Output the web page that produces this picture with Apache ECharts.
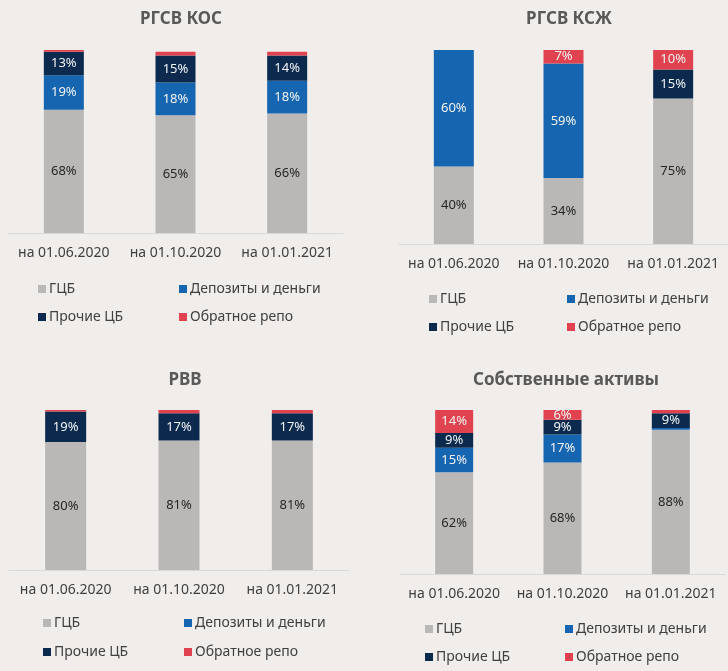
<!DOCTYPE html>
<html>
<head>
<meta charset="utf-8">
<script src="https://cdn.jsdelivr.net/npm/echarts@6/dist/echarts.min.js"></script>
<style>
  html, body { margin: 0; padding: 0; background: #f1edea; }
  #chart { width: 728px; height: 671px; }
</style>
</head>
<body>
<div id="chart"></div>
<script>
// категории и данные (в %)
var dates = ["на 01.06.2020", "на 01.10.2020", "на 01.01.2021"];
var seriesNames = ["ГЦБ", "Депозиты и деньги", "Прочие ЦБ", "Обратное репо"];
var panelTitles = ["РГСВ КОС", "РГСВ КСЖ", "РВВ", "Собственные активы"];

// РГСВ КОС
var kosGcb = [68, 65, 66];
var kosDep = [19, 18, 18];
var kosOther = [13, 15, 14];
var kosRepo = [1, 2, 2];
// РГСВ КСЖ
var kszGcb = [40, 34, 75];
var kszDep = [60, 59, 0];
var kszOther = [0, 0, 15];
var kszRepo = [0, 7, 10];
// РВВ
var rvvGcb = [80, 81, 81];
var rvvDep = [0, 0, 0];
var rvvOther = [19, 17, 17];
var rvvRepo = [1, 2, 2];
// Собственные активы
var ownGcb = [62, 68, 88];
var ownDep = [15, 17, 1];
var ownOther = [9, 9, 9];
var ownRepo = [14, 6, 2];

var panelData = [
  [kosGcb, kosDep, kosOther, kosRepo],
  [kszGcb, kszDep, kszOther, kszRepo],
  [rvvGcb, rvvDep, rvvOther, rvvRepo],
  [ownGcb, ownDep, ownOther, ownRepo]
];

var colors = ["#b9b8b7", "#1565b0", "#0b2a4d", "#e0424f"];
var labelColors = ["#262626", "#f2f2f2", "#f2f2f2", "#f2f2f2"];
var font = "Noto Sans";

// раскладка панелей
var grids = [
  { left: 8, top: 50, width: 335, height: 183 },
  { left: 399, top: 50, width: 334, height: 194 },
  { left: 9, top: 410, width: 340, height: 160 },
  { left: 400, top: 410, width: 325, height: 164 }
];
var barWidths = [40, 40, 41, 38];
var titlePos = [[176, 6], [564, 6], [180, 367], [561, 367]];
// маркеры легенды: [x колонки 1, x колонки 2, y строки 1, y строки 2]
var legendPos = [
  [38, 179, 282, 310],
  [429, 567, 292, 320],
  [43, 184, 616, 645],
  [425, 565, 622, 650]
];

var chart = echarts.init(document.getElementById("chart"));

var title = [], xAxis = [], yAxis = [], series = [], legend = [];
for (var p = 0; p < 4; p++) {
  title.push({
    text: panelTitles[p],
    left: titlePos[p][0],
    top: titlePos[p][1],
    textAlign: "center",
    textStyle: { fontFamily: font, fontSize: 17, fontWeight: "bold", color: "#595959" }
  });
  xAxis.push({
    type: "category",
    gridIndex: p,
    data: dates,
    axisLine: { lineStyle: { color: "#d9d9d9", width: 1 } },
    axisTick: { show: false },
    axisLabel: { interval: 0, margin: 13, fontFamily: font, fontSize: 14, color: "#404040" }
  });
  yAxis.push({
    type: "value",
    gridIndex: p,
    min: 0,
    max: function (v) { return v.max; },
    show: false,
    splitLine: { show: false }
  });
  for (var s = 0; s < 4; s++) {
    series.push({
      name: seriesNames[s],
      type: "bar",
      xAxisIndex: p,
      yAxisIndex: p,
      stack: "p" + p,
      barWidth: barWidths[p],
      itemStyle: { color: colors[s] },
      label: {
        show: true,
        position: "inside",
        fontFamily: font,
        fontSize: 13,
        color: labelColors[s],
        formatter: function (d) { return d.value >= 5 ? d.value + "%" : ""; }
      },
      data: panelData[p][s]
    });
  }
  var lp = legendPos[p];
  var slots = [[lp[0], lp[2]], [lp[1], lp[2]], [lp[0], lp[3]], [lp[1], lp[3]]];
  for (var k = 0; k < 4; k++) {
    legend.push({
      data: [seriesNames[k]],
      left: slots[k][0],
      top: slots[k][1],
      icon: "rect",
      itemWidth: 8,
      itemHeight: 8,
      selectedMode: false,
      padding: 0,
      textStyle: { fontFamily: font, fontSize: 14, color: "#404040", padding: [0, 0, 0, -2] }
    });
  }
}

chart.setOption({
  backgroundColor: "#f1edea",
  animation: false,
  title: title,
  legend: legend,
  grid: grids,
  xAxis: xAxis,
  yAxis: yAxis,
  series: series
});
</script>
</body>
</html>
